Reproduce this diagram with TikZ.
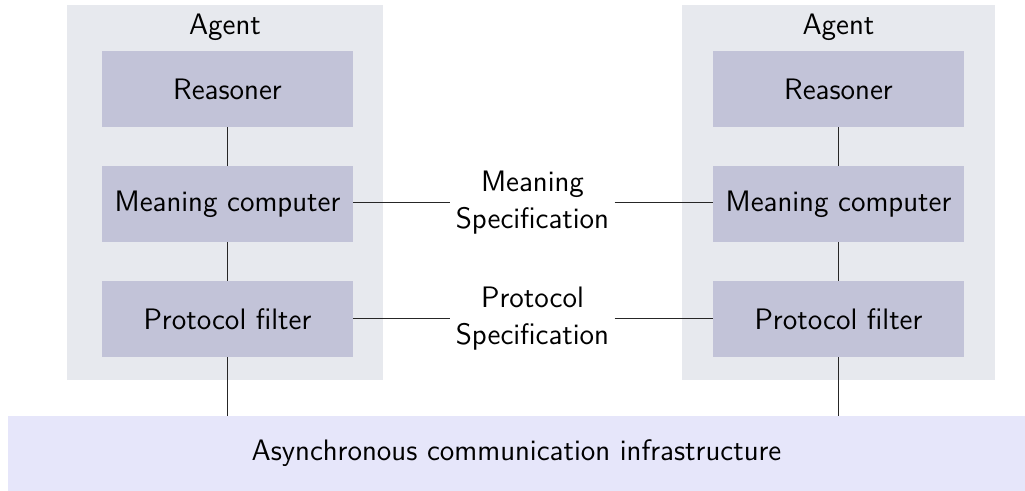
\documentclass[tikz,border=0pt]{standalone}
\usepackage{fontspec}
\definecolor{agentbg}{HTML}{E7E9EE}
\definecolor{compbg}{HTML}{C2C3D8}
\definecolor{infrabg}{HTML}{E6E6FA}
\begin{document}
\begin{tikzpicture}[x=0.5pt,y=-0.5pt,
  every node/.style={font=\sffamily\fontsize{14.8}{18.5}\selectfont},
  agentbox/.style={fill=agentbg, inner sep=0pt, minimum width=157pt, minimum height=187.5pt},
  comp/.style={fill=compbg, inner sep=0pt, minimum width=125.5pt, minimum height=38pt},
  infrabox/.style={fill=infrabg, inner sep=0pt, minimum width=508.5pt, minimum height=37.5pt},
  spec/.style={align=center, inner sep=2.5pt},
  conn/.style={draw=black!85, line width=0.5pt}]
\useasboundingbox (0,0) rectangle (1025,491);
% agent backgrounds
\node[agentbox, minimum width=158pt] (agentL) at (225,192.5) {};
\node[agentbox, minimum width=156.5pt] (agentR) at (838.5,192.5) {};
\node (agentLlabel) at (225,27.5) {Agent};
\node (agentRlabel) at (838.5,27.5) {Agent};
% components
\node[comp] (reasL) at (227.5,89) {Reasoner};
\node[comp] (meanL) at (227.5,204) {Meaning computer};
\node[comp] (protL) at (227.5,319) {Protocol filter};
\node[comp] (reasR) at (838.5,89) {Reasoner};
\node[comp] (meanR) at (838.5,204) {Meaning computer};
\node[comp] (protR) at (838.5,319) {Protocol filter};
% infrastructure
\node[infrabox] (infra) at (516.5,453.5) {Asynchronous communication infrastructure};
% specifications
\node[spec] (mspec) at (532.5,203) {Meaning\\Specification};
\node[spec] (pspec) at (532.5,319) {Protocol\\Specification};
% connectors
\draw[conn] (reasL) -- (meanL);
\draw[conn] (meanL) -- (protL);
\draw[conn] (protL) -- (protL |- infra.north);
\draw[conn] (reasR) -- (meanR);
\draw[conn] (meanR) -- (protR);
\draw[conn] (protR) -- (protR |- infra.north);
\draw[conn] (meanL.east |- mspec.west) -- (mspec.west);
\draw[conn] (mspec.east) -- (meanR.west |- mspec.east);
\draw[conn] (protL.east |- pspec.west) -- (pspec.west);
\draw[conn] (pspec.east) -- (protR.west |- pspec.east);
\end{tikzpicture}
\end{document}
